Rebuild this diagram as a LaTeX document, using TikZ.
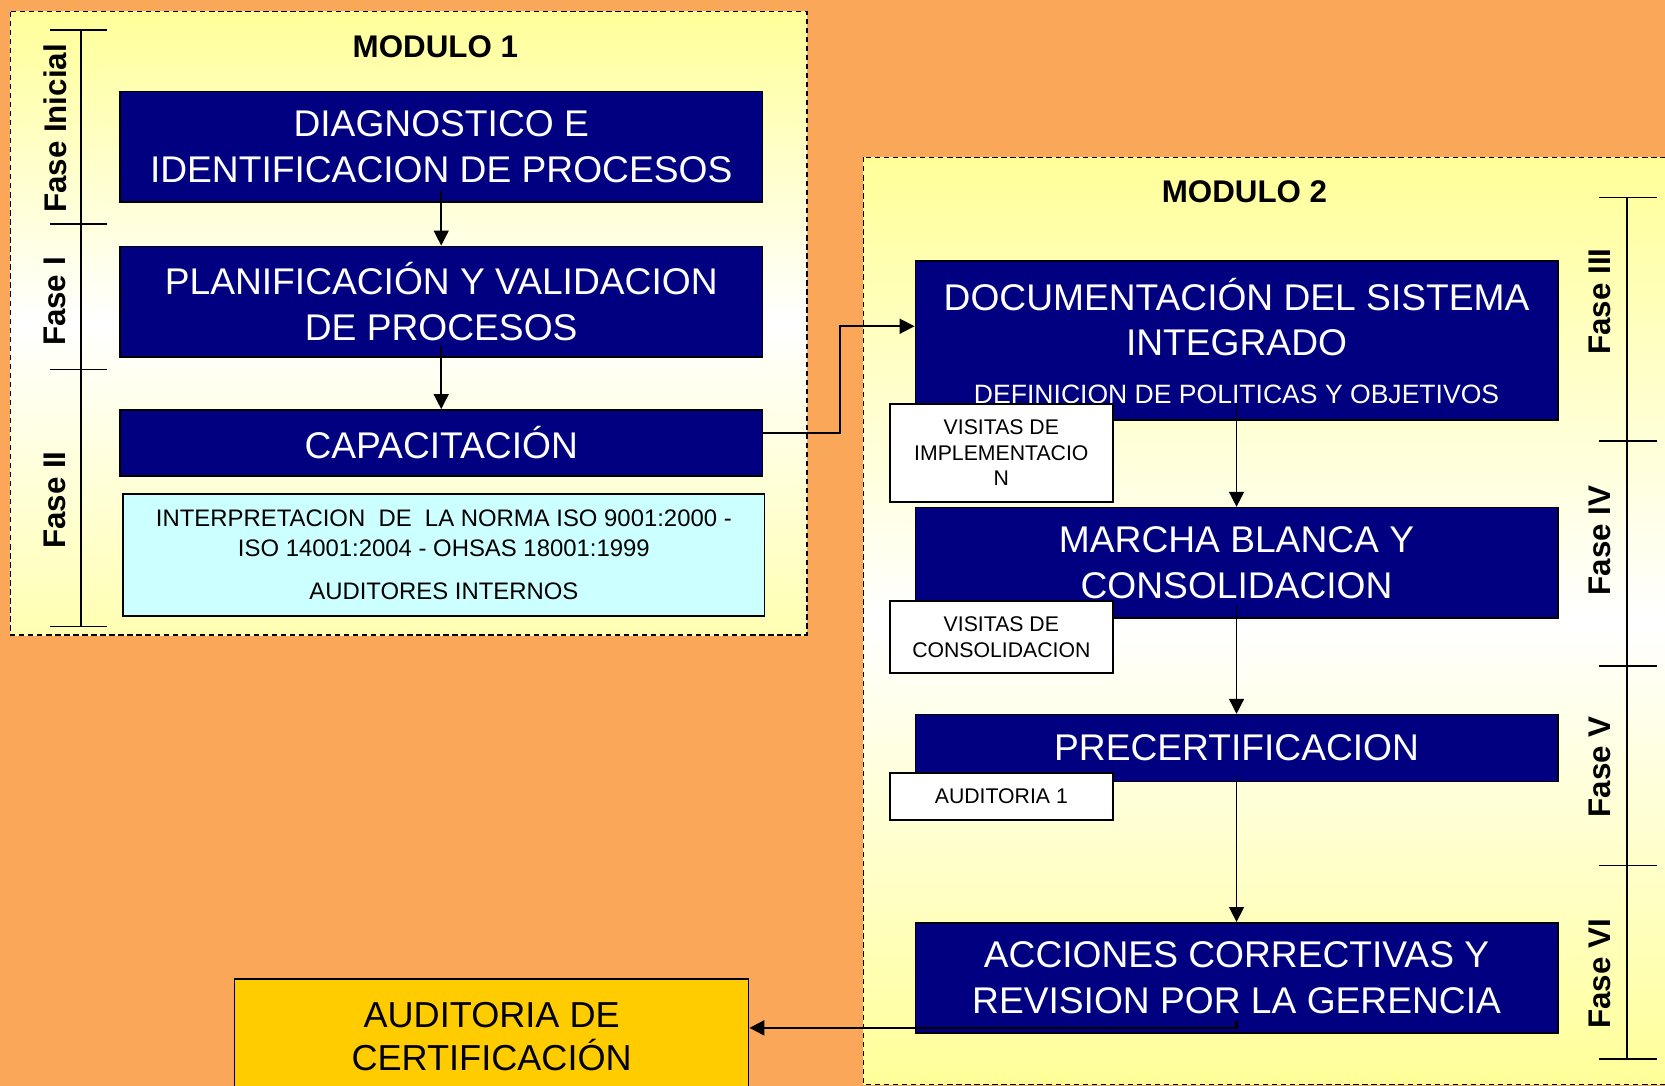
\documentclass[tikz,border=0pt]{standalone}
\usepackage{fontspec}
\setmainfont{Liberation Sans}
\usetikzlibrary{arrows.meta,calc}
\definecolor{bgorange}{RGB}{250,167,90}
\definecolor{navyblue}{RGB}{0,0,128}
\definecolor{paleyellow}{RGB}{255,255,153}
\definecolor{palecyan}{RGB}{204,255,255}
\definecolor{goldbox}{RGB}{255,204,0}
\begin{document}
\begin{tikzpicture}[x=1pt,y=-1pt,
  navybox/.style={draw=black, line width=1.5pt, fill=navyblue, text=white, align=center,
    inner sep=0pt, font=\fontsize{35}{43}\selectfont},
  whitebox/.style={draw=black, line width=1.5pt, fill=white, align=center,
    inner sep=0pt, font=\fontsize{20}{24}\selectfont},
  modlabel/.style={font=\bfseries\fontsize{29.5}{34}\selectfont},
  faselabel/.style={rotate=90, inner sep=0pt, font=\bfseries\fontsize{29.5}{34}\selectfont},
  ruler/.style={line width=1.6pt},
  arr/.style={line width=1.4pt, -{Triangle[length=14pt,width=14pt]}},
  modbox/.style={dash pattern=on 5pt off 3.5pt, line width=1.2pt}
]
\useasboundingbox (0,0) rectangle (1568,1022.7);
\clip (0,0) rectangle (1568,1022.7);
\fill[bgorange] (0,0) rectangle (1568,1022.7);

% ---------- Module 1 ----------
\shade[top color=paleyellow, bottom color=paleyellow!75!white, middle color=white] (10,11) rectangle (760,598);
\draw[modbox] (10,11) rectangle (760,598);
\node[modlabel] (m1) at (410,44) {MODULO 1};

\draw[ruler] (76,28) -- (76,590);
\foreach \yy in {28,211,348,590} \draw[ruler] (47,\yy) -- (101,\yy);
\node[faselabel] (f0) at (52,121) {Fase Inicial};
\node[faselabel] (f1) at (52,284) {Fase I};
\node[faselabel] (f2) at (52,471) {Fase II};

\node[navybox, minimum width=605pt, minimum height=104pt] (diag) at (415.5,138)
  {DIAGNOSTICO E\\IDENTIFICACION DE PROCESOS};
\node[navybox, minimum width=605pt, minimum height=104pt] (plan) at (415.5,284)
  {PLANIFICACIÓN Y VALIDACION\\DE PROCESOS};
\node[navybox, minimum width=605pt, minimum height=62pt] (cap) at (415.5,417)
  {CAPACITACIÓN};
\node[draw=black, line width=1.5pt, fill=palecyan, minimum width=604pt, minimum height=115pt,
  inner sep=0pt, align=center, font=\fontsize{22.5}{28}\selectfont] (interp) at (418,522.5)
  {INTERPRETACION\ \ DE\ \ LA NORMA ISO 9001:2000 -\\ISO 14001:2004 - OHSAS 18001:1999\\[12pt]AUDITORES INTERNOS};

\draw[arr] ([yshift=11pt]diag.south) -- (plan.north);
\draw[arr] ([yshift=11pt]plan.south) -- (cap.north);

% ---------- Module 2 ----------
\shade[top color=paleyellow, bottom color=paleyellow, middle color=white] (813,148) rectangle (1580,1021);
\draw[modbox] (813,148) rectangle (1580,1021);
\node[modlabel] (m2) at (1172,181) {MODULO 2};

\draw[ruler] (1532.5,186) -- (1532.5,997.6);
\foreach \yy in {186,415.5,627.5,815,997.6} \draw[ruler] (1506,\yy) -- (1560,\yy);
\node[faselabel] (f3) at (1507,284) {Fase III};
\node[faselabel] (f4) at (1507,509) {Fase IV};
\node[faselabel] (f5) at (1507,722) {Fase V};
\node[faselabel] (f6) at (1507,917) {Fase VI};

\node[navybox, minimum width=605pt, minimum height=149.5pt] (doc) at (1164.5,320.75) {};
\node[text=white, align=center, inner sep=0pt, font=\fontsize{35}{43}\selectfont] (doct) at (1164.5,298.5)
  {DOCUMENTACIÓN DEL SISTEMA\\INTEGRADO};
\node[text=white, inner sep=0pt, font=\fontsize{25}{30}\selectfont] (docs) at (1164.5,371)
  {DEFINICION DE POLITICAS Y OBJETIVOS};
\node[navybox, minimum width=605pt, minimum height=104pt] (marcha) at (1164.5,530)
  {MARCHA BLANCA Y\\CONSOLIDACION};
\node[navybox, minimum width=605pt, minimum height=63pt] (prec) at (1164.5,704.5)
  {PRECERTIFICACION};
\node[navybox, minimum width=605pt, minimum height=104pt] (acc) at (1164.5,921)
  {ACCIONES CORRECTIVAS Y\\REVISION POR LA GERENCIA};

\node[whitebox, minimum width=210pt, minimum height=92pt] (visimp) at (943,426.5)
  {VISITAS DE\\IMPLEMENTACIO\\N};
\node[whitebox, minimum width=210pt, minimum height=68pt] (viscon) at (943,600)
  {VISITAS DE\\CONSOLIDACION};
\node[whitebox, minimum width=210pt, minimum height=44pt] (aud1) at (943,750)
  {AUDITORIA 1};

\node[draw=black, line width=1.5pt, fill=goldbox, minimum width=484pt, minimum height=108pt,
  inner sep=0pt, align=center, font=\fontsize{34}{41}\selectfont] (aud) at (463,976)
  {AUDITORIA DE\\CERTIFICACIÓN};

\draw[arr, line width=1.8pt] ([yshift=9pt]cap.east) -- ++(72,0) |- ([yshift=13.5pt]doc.west);
\draw[arr] ([yshift=16pt]doc.south) -- (marcha.north);
\draw[arr] ([yshift=12pt]marcha.south) -- (prec.north);
\draw[arr] ([yshift=6pt]prec.south) -- (acc.north);
\draw[arr, line width=2pt] ([yshift=12pt]acc.south) |- ([yshift=8pt]aud.east);
\end{tikzpicture}
\end{document}
